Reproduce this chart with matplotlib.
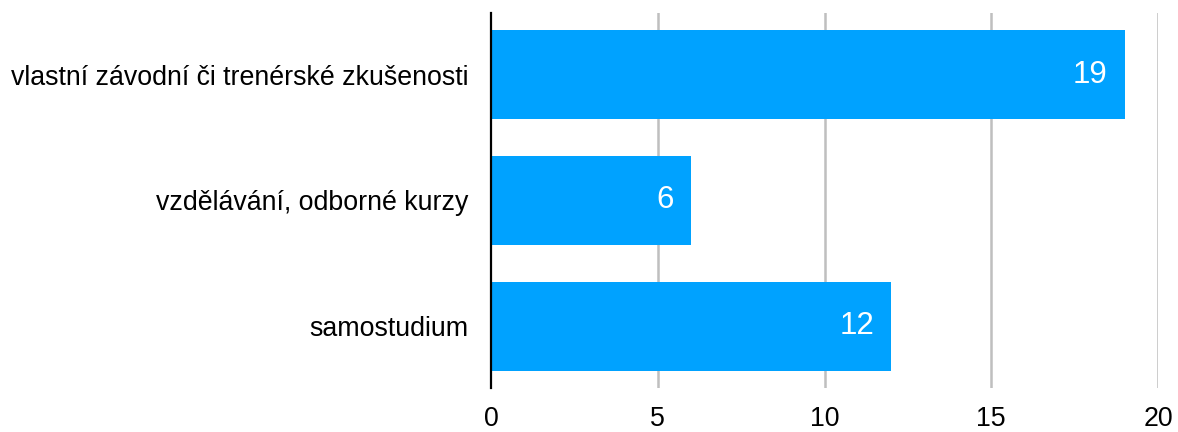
import matplotlib
matplotlib.use("Agg")
import matplotlib.pyplot as plt

categories = ["vlastní závodní či trenérské zkušenosti",
              "vzdělávání, odborné kurzy",
              "samostudium"]
values = [19, 6, 12]
xticks = [0, 5, 10, 15, 20]

plt.rcParams['font.family'] = ['Liberation Sans', 'DejaVu Sans']

fig = plt.figure(figsize=(11.78, 4.32), dpi=100)
ax = fig.add_axes([491 / 1178, 1 - 388 / 432, 667 / 1178, 375 / 432])

pos = list(range(len(categories)))
ax.barh(pos, values, height=0.71, color='#00A2FF', zorder=2)

for p, v in zip(pos, values):
    ax.annotate(str(v), xy=(v, p), xytext=(-17, 0), textcoords='offset pixels',
                ha='right', va='center', color='white', fontsize=22.5)

ax.set_xlim(0, 20)
ax.set_ylim(2.49, -0.49)
ax.set_xticks(xticks)
ax.set_xticklabels([str(t) for t in xticks], fontsize=19.3)
ax.set_yticks(pos)
ax.set_yticklabels(categories, fontsize=19.3)
ax.tick_params(axis='both', length=0)
ax.tick_params(axis='x', pad=13)
ax.tick_params(axis='y', pad=16)

for t in xticks[1:]:
    ax.axvline(t, color='#BFBFBF', lw=1.8, zorder=1)

for s in ['top', 'right', 'bottom']:
    ax.spines[s].set_visible(False)
ax.spines['left'].set_linewidth(1.6)
ax.spines['left'].set_color('black')
ax.spines['left'].set_zorder(3)

fig.savefig('out.png', dpi=100)
